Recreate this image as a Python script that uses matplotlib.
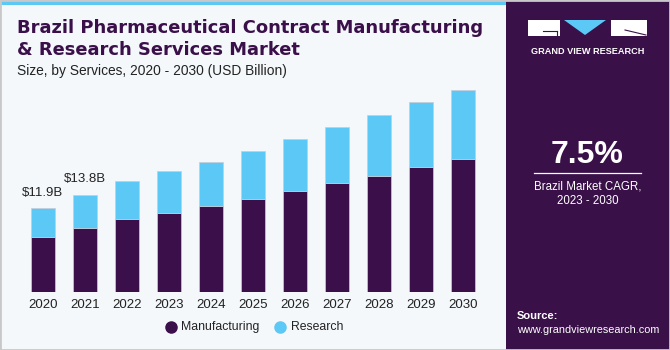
import matplotlib.pyplot as plt
import matplotlib.patches as patches
from matplotlib.colors import LinearSegmentedColormap
import numpy as np

years = ["2020", "2021", "2022", "2023", "2024", "2025", "2026", "2027", "2028", "2029", "2030"]
manufacturing = [7.82, 9.15, 10.38, 11.28, 12.23, 13.23, 14.32, 15.46, 16.54, 17.74, 18.92]
research = [4.08, 4.65, 5.41, 5.89, 6.30, 6.87, 7.40, 7.97, 8.59, 9.24, 9.86]
labels = {0: "$11.9B", 1: "$13.8B"}

dark = "#3A0F4A"
light = "#5BC8F5"
bg = "#F4F8FB"

plt.rcParams['font.family'] = ['Liberation Sans', 'DejaVu Sans']

W, H = 670, 350
fig = plt.figure(figsize=(W / 100, H / 100), dpi=100)
fig.patch.set_facecolor(bg)

def fx(px):
    return px / W

def fy(py):
    return 1 - py / H

# top stripe and right panel
fig.patches.append(patches.Rectangle((0, fy(5)), fx(506), 5 / H, transform=fig.transFigure,
                                     facecolor=light, edgecolor="none", zorder=0))
fig.patches.append(patches.Rectangle((fx(506), 0), 1 - fx(506), 1, transform=fig.transFigure,
                                     facecolor="#3A1049", edgecolor="none", zorder=0))

# gradient at bottom of panel
gax = fig.add_axes([fx(506), 0, 1 - fx(506), 92 / H])
grad = np.linspace(0, 1, 100).reshape(-1, 1)
cmap = LinearSegmentedColormap.from_list("g", ["#52B4E4", "#4A72B0", "#3F3A78", "#3A1049"])
gax.imshow(grad, aspect="auto", cmap=cmap, extent=[0, 1, 0, 1], origin="lower")
for k in range(14):
    t = k / 13
    gax.plot([t, 0.5 + (t - 0.5) * 0.4], [0, 0.75], color="white", alpha=0.15, lw=0.6)
for k in range(9):
    yy = 0.75 * (1 - (1 - k / 9) ** 1.6)
    gax.plot([0, 1], [yy, yy + 0.05 * np.sin(k)], color="white", alpha=0.15, lw=0.6)
gax.set_xlim(0, 1)
gax.set_ylim(0, 1)
gax.axis("off")

# logo
ly = 20
fig.patches.append(patches.Rectangle((fx(528), fy(ly + 16)), fx(32), 16 / H, transform=fig.transFigure,
                                     facecolor="white", edgecolor="none"))
fig.patches.append(patches.Polygon([(fx(564), fy(ly)), (fx(606), fy(ly)), (fx(585), fy(ly + 15))],
                                   closed=True, transform=fig.transFigure, facecolor=light, edgecolor="none"))
fig.patches.append(patches.Rectangle((fx(611), fy(ly + 16)), fx(36), 16 / H, transform=fig.transFigure,
                                     facecolor="white", edgecolor="none"))
fig.lines.append(plt.Line2D([fx(543), fx(557)], [fy(ly + 11), fy(ly + 11)], transform=fig.transFigure,
                            color="#3A1049", lw=0.8))
fig.lines.append(plt.Line2D([fx(557), fx(557)], [fy(ly + 11), fy(ly + 16)], transform=fig.transFigure,
                            color="#3A1049", lw=0.8))
fig.lines.append(plt.Line2D([fx(625), fx(646)], [fy(ly + 10), fy(ly + 15)], transform=fig.transFigure,
                            color="#3A1049", lw=0.8))
fig.text(fx(587.5), fy(51), "GRAND VIEW RESEARCH", color="white", fontsize=6.6, fontweight="bold",
         ha="center", va="center")

fig.text(fx(587), fy(155), "7.5%", color="white", fontsize=23, fontweight="bold", ha="center", va="center")
fig.lines.append(plt.Line2D([fx(534), fx(641)], [fy(173), fy(173)], transform=fig.transFigure,
                            color="white", lw=0.9))
fig.text(fx(588), fy(186), "Brazil Market CAGR,", color="white", fontsize=8.3, ha="center", va="center")
fig.text(fx(588), fy(201), "2023 - 2030", color="white", fontsize=8.3, ha="center", va="center")
fig.text(fx(517), fy(316), "Source:", color="white", fontsize=8, fontweight="bold", ha="left", va="center")
fig.text(fx(517), fy(330), "www.grandviewresearch.com", color="white", fontsize=7.8, ha="left", va="center")

# titles
fig.text(fx(17), fy(28), "Brazil Pharmaceutical Contract Manufacturing", color=dark, fontsize=12.9,
         fontweight="bold", family=["DejaVu Sans"], ha="left", va="center")
fig.text(fx(17), fy(50), "& Research Services Market", color=dark, fontsize=12.9,
         fontweight="bold", family=["DejaVu Sans"], ha="left", va="center")
fig.text(fx(17), fy(71), "Size, by Services, 2020 - 2030 (USD Billion)", color="#222222", fontsize=9.9,
         ha="left", va="center")

# chart
ax = fig.add_axes([fx(21.8), fy(292), fx(462), 210.9 / H])
ax.set_facecolor("none")
x = np.arange(len(years))
ax.bar(x, manufacturing, width=0.58, color=dark, edgecolor="#C9CCD6", linewidth=0.5)
ax.bar(x, research, width=0.58, bottom=manufacturing, color=light, edgecolor="#C9CCD6", linewidth=0.5)
for i, txt in labels.items():
    ax.annotate(txt, (x[i], manufacturing[i] + research[i]), xytext=(0, 7), textcoords="offset points",
                ha="center", va="bottom", fontsize=9.5, color="#222222")
ax.set_xlim(-0.5, 10.5)
ax.set_ylim(0, 30)
ax.set_xticks(x)
ax.set_xticklabels(years, fontsize=9.5, color="#222222")
ax.tick_params(axis="x", length=0, pad=5)
ax.set_yticks([])
for s in ax.spines.values():
    s.set_visible(False)

# legend
fig.lines.append(plt.Line2D([fx(171)], [fy(327)], transform=fig.transFigure, marker="o", ms=8,
                            color=dark, linestyle="none"))
fig.text(fx(181), fy(327), "Manufacturing", fontsize=8.8, color="#222222", ha="left", va="center")
fig.lines.append(plt.Line2D([fx(280)], [fy(327)], transform=fig.transFigure, marker="o", ms=8,
                            color=light, linestyle="none"))
fig.text(fx(291), fy(327), "Research", fontsize=8.8, color="#222222", ha="left", va="center")

# frame
fig.patches.append(patches.Rectangle((0, 0), 1, 1, transform=fig.transFigure, facecolor="none",
                                     edgecolor="#C8C8C8", lw=2, zorder=10))

fig.savefig("out.png", dpi=100, facecolor=fig.get_facecolor())
